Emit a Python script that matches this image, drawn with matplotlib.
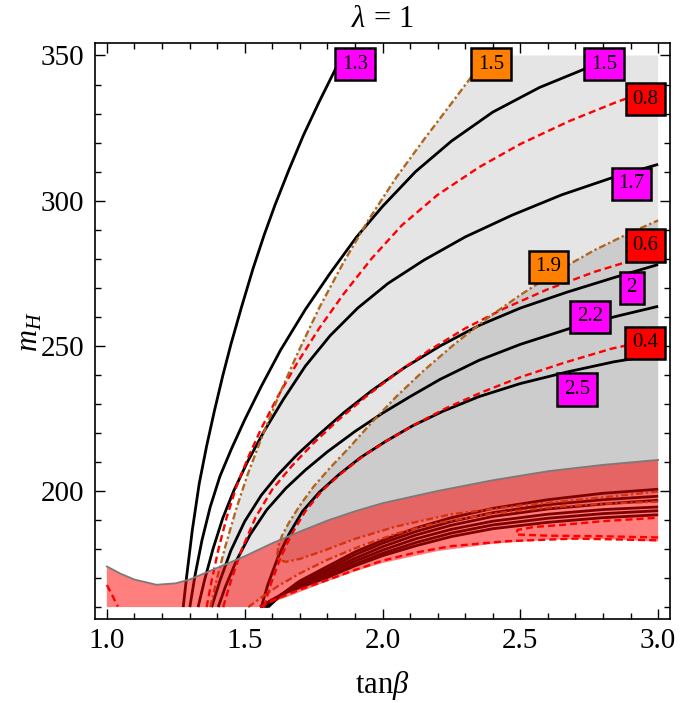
import matplotlib
matplotlib.use("Agg")
import matplotlib.pyplot as plt
from matplotlib.ticker import MultipleLocator

plt.rcParams['font.family'] = ['Liberation Serif', 'DejaVu Serif']
plt.rcParams['mathtext.fontset'] = 'custom'
plt.rcParams['mathtext.rm'] = 'Liberation Serif'
plt.rcParams['mathtext.it'] = 'Liberation Serif:italic'

# ---------------- data ----------------
# black contours (labelled values)
b13_x = [1.277, 1.290, 1.310, 1.335, 1.362, 1.39, 1.42, 1.45, 1.489, 1.53, 1.57, 1.61, 1.66, 1.713, 1.77, 1.838]
b13_y = [160, 171, 186.5, 202.5, 215.5, 227.5, 239.5, 250.5, 263.5, 276.5, 288, 298.5, 310.5, 322.5, 334, 347]
b15_x = [1.301, 1.32, 1.345, 1.375, 1.41, 1.452, 1.50, 1.56, 1.63, 1.72, 1.81, 1.906, 2.0, 2.12, 2.25, 2.4, 2.57, 2.75]
b15_y = [160, 171, 183, 194.5, 205, 214.5, 224.5, 236, 248.5, 262.5, 275, 287.5, 298, 310, 320.5, 330.5, 339, 346]
b17_x = [1.331, 1.355, 1.385, 1.42, 1.46, 1.51, 1.57, 1.64, 1.72, 1.81, 1.91, 2.02, 2.15, 2.3, 2.47, 2.65, 2.83, 3.0]
b17_y = [160, 169.5, 180, 190.5, 200, 210, 220.5, 231.5, 243, 253.5, 263, 271.5, 279.5, 287.5, 295, 302, 307.8, 312.5]
b20_x = [1.38, 1.41, 1.45, 1.50, 1.56, 1.62, 1.69, 1.77, 1.86, 1.96, 2.08, 2.21, 2.35, 2.5, 2.67, 2.84, 3.0]
b20_y = [160, 169, 179.5, 189.5, 198.5, 205.5, 212.5, 219.5, 227, 234.5, 242.5, 250, 257, 263, 268.5, 273.5, 278]
b22_x = [1.404, 1.43, 1.47, 1.52, 1.58, 1.65, 1.72, 1.80, 1.90, 2.0, 2.1, 2.21, 2.35, 2.5, 2.68, 2.85, 3.0]
b22_y = [160, 167, 176, 185, 193.5, 201, 207.2, 213.5, 220.5, 226.8, 232.5, 238.5, 245, 250.5, 256, 260.2, 263.6]
b25_x = [1.56, 1.585, 1.62, 1.66, 1.71, 1.77, 1.84, 1.92, 2.01, 2.11, 2.22, 2.35, 2.5, 2.67, 2.84, 3.0]
b25_y = [160, 168, 177, 185, 193, 199.5, 205.5, 211.5, 217, 222.5, 227.5, 232.5, 237, 241, 244.5, 247]
# unlabelled black contours inside the red band
dA_x = [1.585, 1.63, 1.70, 1.8, 1.9, 2.0, 2.12, 2.25, 2.4, 2.6, 2.8, 3.0]
dA_y = [160, 164, 169, 174, 179, 183, 187.2, 190.8, 194, 197, 199.2, 200.6]
dB_x = [1.58, 1.625, 1.69, 1.8, 1.9, 2.0, 2.12, 2.25, 2.4, 2.6, 2.8, 3.0]
dB_y = [160, 163.6, 168.3, 173, 178, 182, 186, 189.5, 192.5, 195.3, 197, 198.2]
dC_x = [1.575, 1.62, 1.68, 1.8, 1.9, 2.0, 2.12, 2.25, 2.4, 2.6, 2.8, 3.0]
dC_y = [160, 163.4, 167.4, 172.2, 176.8, 180.8, 184.8, 188.2, 191.2, 193.8, 195.5, 196.8]
dD_x = [1.57, 1.615, 1.67, 1.8, 1.9, 2.0, 2.12, 2.25, 2.4, 2.6, 2.8, 3.0]
dD_y = [160, 163.2, 166.6, 171.3, 175.8, 179.6, 183.5, 186.8, 189.6, 192, 193.6, 194.5]
dE_x = [1.562, 1.61, 1.66, 1.8, 1.9, 2.0, 2.12, 2.25, 2.4, 2.6, 2.8, 3.0]
dE_y = [160, 163.0, 165.8, 170.5, 174.8, 178.5, 182.2, 185.5, 188.3, 190.6, 192.2, 193.2]
dF_x = [1.555, 1.6, 1.65, 1.8, 1.9, 2.0, 2.12, 2.25, 2.4, 2.6, 2.8, 3.0]
dF_y = [160, 162.6, 165.0, 170.2, 174.2, 177.7, 181.1, 184.3, 187, 189.2, 190.8, 191.8]

# red dashed contours
r08_x = [1.362, 1.38, 1.405, 1.435, 1.47, 1.51, 1.56, 1.62, 1.69, 1.77, 1.86, 1.96, 2.07, 2.2, 2.35, 2.5, 2.68, 2.85, 3.0]
r08_y = [160, 169, 180, 191, 201.5, 211, 221.5, 232.5, 244, 256, 268, 280, 291.5, 302, 311.5, 319.5, 327.5, 334, 339]
r06_x = [1.422, 1.45, 1.49, 1.54, 1.60, 1.67, 1.75, 1.84, 1.94, 2.05, 2.17, 2.3, 2.44, 2.6, 2.77, 2.9, 3.0]
r06_y = [160, 169, 180, 191, 200.5, 208.5, 216.5, 224.5, 232.5, 240.5, 248.5, 256, 262.8, 269.5, 275.5, 279.3, 282]
r04_x = [1.57, 1.595, 1.63, 1.67, 1.72, 1.78, 1.85, 1.93, 2.02, 2.12, 2.23, 2.36, 2.5, 2.66, 2.83, 3.0]
r04_y = [160, 168, 177, 185, 193, 200, 206, 212, 217.5, 223, 228.5, 234, 239.2, 244.2, 249, 252.5]
rlow_x = [1.556, 1.6, 1.7, 1.8, 1.9, 2.0, 2.12, 2.25, 2.45, 2.7, 3.0]
rlow_y = [160, 162.2, 166, 169.3, 172.8, 176, 178.8, 181, 182.7, 183.6, 183.0]
rloop_x = [3.0, 2.8, 2.6, 2.485, 2.49, 2.55, 2.65, 2.8, 3.0]
rloop_y = [184.0, 184.4, 184.6, 185.0, 186.6, 187.6, 188.3, 189.6, 190.8]
rleft_x = [1.0, 1.02, 1.04]
rleft_y = [167.6, 164.0, 160.2]

# orange dash-dot contours
o15_x = [1.375, 1.40, 1.43, 1.47, 1.51, 1.56, 1.62, 1.69, 1.77, 1.86, 1.95, 2.05, 2.15, 2.25, 2.345, 2.38]
o15_y = [160, 170, 181, 194, 205.5, 218, 232, 247, 263, 279, 293.5, 308, 321, 333.5, 345.5, 350]
o15low_x = [1.513, 1.56, 1.62, 1.7, 1.8, 1.92, 2.05, 2.2, 2.4, 2.6, 2.8, 3.0]
o15low_y = [160, 163.3, 167.2, 171.6, 176.3, 181, 185.3, 189, 192.2, 194.3, 195.6, 196.3]
o19_x = [3.0, 2.75, 2.5, 2.25, 2.05, 1.9, 1.78, 1.70, 1.65, 1.625, 1.618, 1.622, 1.635, 1.66, 1.70, 1.75,
         1.81, 1.88, 1.96, 2.05, 2.15, 2.26, 2.38, 2.5, 2.63, 2.77, 2.9, 3.0]
o19_y = [199.8, 197.3, 195, 192, 187.8, 183.5, 179.2, 176.6, 175.6, 176.2, 177.5, 181, 184.5, 189, 195, 201.5,
         208, 215, 223.5, 232.5, 241.5, 250.5, 259.5, 267.5, 275.5, 283, 289, 293.2]

# red band (allowed region)
band_top_x = [1.0, 1.05, 1.1, 1.18, 1.25, 1.3, 1.4, 1.5, 1.6, 1.7, 1.8, 1.9, 2.0, 2.2, 2.4, 2.6, 2.8, 3.0]
band_top_y = [174, 171.5, 169.5, 167.7, 168.2, 169.5, 173.5, 177.5, 182, 186, 189.8, 193, 195.8, 200, 203.7, 206.8, 209, 210.7]
band_bot_x = [3.0, 2.8, 2.6, 2.4, 2.2, 2.0, 1.9, 1.8, 1.7, 1.6, 1.55, 1.0]
band_bot_y = [182.6, 183.4, 183.2, 181.8, 179.3, 175.2, 172.3, 168.9, 165.2, 161.5, 160, 160]

# contour labels
lab_text = ["1.3", "1.5", "1.5", "0.8", "1.7", "0.6", "1.9", "2", "2.2", "0.4", "2.5"]
lab_x = [1.901, 2.394, 2.804, 2.955, 2.904, 2.953, 2.602, 2.904, 2.753, 2.953, 2.705]
lab_y = [347, 347, 347, 335, 305.8, 284.6, 277.2, 270, 260, 251, 235]
lab_col = ["#ff00ff", "#ff8000", "#ff00ff", "#ff0000", "#ff00ff", "#ff0000", "#ff8000",
           "#ff00ff", "#ff00ff", "#ff0000", "#ff00ff"]

x_ticks = [1.0, 1.5, 2.0, 2.5, 3.0]
y_ticks = [200, 250, 300, 350]

# ---------------- figure ----------------
fig = plt.figure(figsize=(6.8, 7.03), dpi=100)
ax = fig.add_axes([95 / 680, (703 - 619.3) / 703, 575 / 680, 576 / 703])

# gray regions
lg_x = o15_x + [3.0, 3.0] + o15low_x[::-1]
lg_y = o15_y + [350, o15low_y[-1]] + o15low_y[::-1]
ax.fill(lg_x, lg_y, color="#e5e5e5", lw=0, zorder=1)
ax.fill(o19_x, o19_y, color="#cccccc", lw=0, zorder=2)

# black contours
black_lines = [(b13_x, b13_y), (b15_x, b15_y), (b17_x, b17_y), (b20_x, b20_y),
               (b22_x, b22_y), (b25_x, b25_y), (dA_x, dA_y), (dB_x, dB_y),
               (dC_x, dC_y), (dD_x, dD_y), (dE_x, dE_y), (dF_x, dF_y)]
for xs, ys in black_lines:
    ax.plot(xs, ys, color="black", lw=2.0, zorder=4, solid_capstyle="butt",
            solid_joinstyle="round")

# red dashed contours
for xs, ys in [(r08_x, r08_y), (r06_x, r06_y), (r04_x, r04_y), (rlow_x, rlow_y),
               (rloop_x, rloop_y), (rleft_x, rleft_y)]:
    ax.plot(xs, ys, color="#ff0000", lw=1.7, dashes=(3.0, 1.7), zorder=5)

# orange dash-dot contours
for xs, ys in [(o15_x, o15_y), (o15low_x, o15low_y), (o19_x, o19_y)]:
    ax.plot(xs, ys, color="#b0661e", lw=1.7, dashes=(3.0, 1.2, 1.0, 1.2), zorder=5)

# red band on top
bx = band_top_x + band_bot_x
by = band_top_y + band_bot_y
ax.fill(bx, by, color="#ff0000", alpha=0.5, lw=0, zorder=6)
ax.plot(band_top_x, band_top_y, color="#7a7a7a", lw=1.3, zorder=7)

# labels
for t, lx, ly, c in zip(lab_text, lab_x, lab_y, lab_col):
    ax.text(lx, ly, t, ha="center", va="center", fontsize=15, zorder=10,
            bbox=dict(boxstyle="square,pad=0.32", fc=c, ec="black", lw=1.8))

ax.set_xlim(0.957, 3.043)
ax.set_ylim(155.8, 354.2)
ax.set_xticks(x_ticks)
ax.set_xticklabels(["%.1f" % v for v in x_ticks])
ax.set_yticks(y_ticks)
ax.xaxis.set_minor_locator(MultipleLocator(0.1))
ax.yaxis.set_minor_locator(MultipleLocator(10))
ax.tick_params(which="both", direction="in", top=True, right=True, width=1.0)
ax.tick_params(which="major", length=7, labelsize=21)
ax.tick_params(axis="y", which="major", pad=8)
ax.tick_params(axis="x", which="major", pad=6)
ax.tick_params(which="minor", length=4)
for s in ax.spines.values():
    s.set_linewidth(1.2)

ax.set_xlabel(r"$\mathrm{tan}\beta$", fontsize=22, labelpad=11)
ax.set_ylabel(r"$m_H$", fontsize=22, labelpad=-3)
ax.set_title(r"$\lambda\, =\, 1$", fontsize=22, pad=12)

fig.savefig("out.png", dpi=100)
